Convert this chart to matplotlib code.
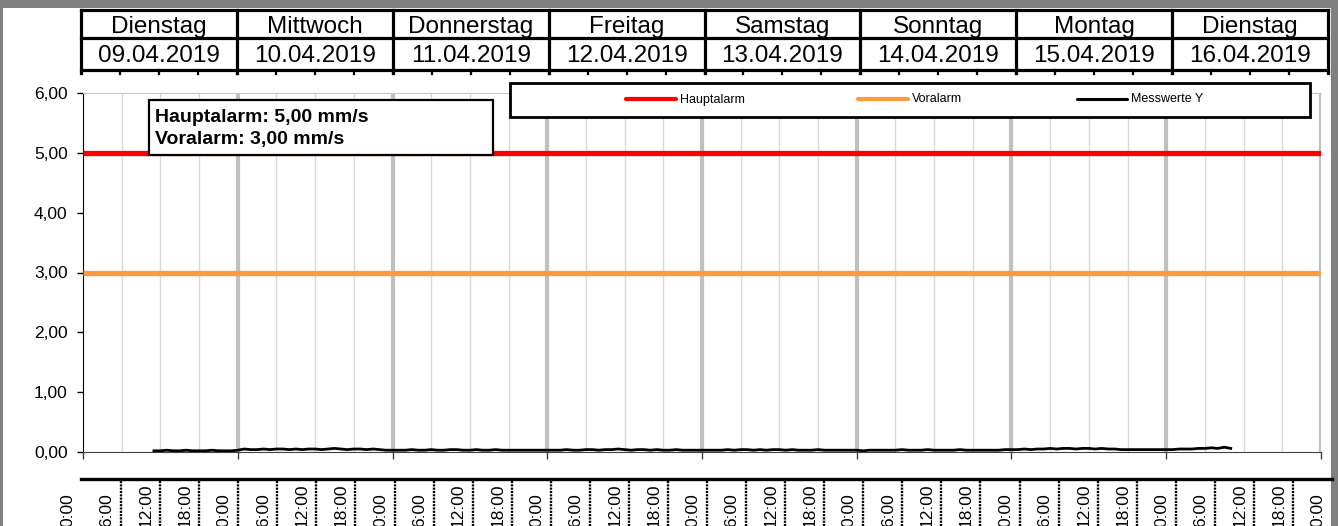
import matplotlib
matplotlib.use("Agg")
import matplotlib.pyplot as plt
from matplotlib.patches import Rectangle

# ---------------- data ----------------
day_names = ["Dienstag", "Mittwoch", "Donnerstag", "Freitag", "Samstag", "Sonntag", "Montag", "Dienstag"]
day_dates = ["09.04.2019", "10.04.2019", "11.04.2019", "12.04.2019", "13.04.2019", "14.04.2019", "15.04.2019", "16.04.2019"]
time_labels = ["0:00", "6:00", "12:00", "18:00"] * 8 + ["0:00"]
y_ticks = [0, 1, 2, 3, 4, 5, 6]
hauptalarm = 5.0
voralarm = 3.0
legend_labels = ["Hauptalarm", "Voralarm", "Messwerte Y"]

# Messwerte Y: hourly readings (hours since 09.04.2019 00:00), starting at 11:00
mess_start_hour = 11
mess_values = [
    # 09.04 11-23h
    0.02, 0.02, 0.03, 0.02, 0.02, 0.03, 0.02, 0.02, 0.02, 0.03, 0.02, 0.02, 0.02,
    # 10.04
    0.03, 0.05, 0.04, 0.04, 0.05, 0.04, 0.05, 0.05, 0.04, 0.05, 0.04, 0.05,
    0.05, 0.04, 0.05, 0.06, 0.05, 0.04, 0.05, 0.05, 0.04, 0.05, 0.04, 0.03,
    # 11.04
    0.03, 0.03, 0.03, 0.04, 0.03, 0.03, 0.04, 0.03, 0.03, 0.04, 0.04, 0.03,
    0.03, 0.04, 0.03, 0.03, 0.04, 0.03, 0.03, 0.03, 0.03, 0.03, 0.03, 0.03,
    # 12.04
    0.03, 0.03, 0.03, 0.04, 0.03, 0.03, 0.04, 0.04, 0.03, 0.04, 0.04, 0.05,
    0.04, 0.03, 0.04, 0.04, 0.03, 0.04, 0.03, 0.03, 0.04, 0.03, 0.03, 0.03,
    # 13.04
    0.03, 0.03, 0.03, 0.03, 0.04, 0.03, 0.04, 0.04, 0.03, 0.04, 0.03, 0.04,
    0.04, 0.03, 0.04, 0.03, 0.03, 0.03, 0.04, 0.03, 0.03, 0.03, 0.03, 0.03,
    # 14.04
    0.03, 0.02, 0.03, 0.03, 0.03, 0.03, 0.03, 0.04, 0.03, 0.03, 0.03, 0.04,
    0.03, 0.03, 0.03, 0.03, 0.04, 0.03, 0.03, 0.03, 0.03, 0.03, 0.03, 0.04,
    # 15.04
    0.04, 0.04, 0.05, 0.04, 0.05, 0.05, 0.06, 0.05, 0.06, 0.06, 0.05, 0.06,
    0.06, 0.05, 0.06, 0.05, 0.05, 0.04, 0.04, 0.04, 0.04, 0.04, 0.04, 0.04,
    # 16.04 0-10h
    0.04, 0.04, 0.05, 0.05, 0.05, 0.06, 0.06, 0.07, 0.06, 0.08, 0.06,
]
mess_hours = [mess_start_hour + i for i in range(len(mess_values))]

# ---------------- figure ----------------
W, H = 1338, 526
fig = plt.figure(figsize=(W / 100, H / 100), dpi=100)
plt.rcParams["font.family"] = ["Liberation Sans", "DejaVu Sans"]


def ax_px(x0, y0, x1, y1, **kw):
    return fig.add_axes([x0 / W, 1 - y1 / H, (x1 - x0) / W, (y1 - y0) / H], **kw)


n_days = len(day_names)
total_h = 24 * n_days

# main plot
ax = ax_px(83, 93, 1321, 452)
ax.set_xlim(0, total_h)
ax.set_ylim(0, 6)
for h in range(6, total_h + 1, 6):
    if h % 24 == 0:
        ax.axvline(h, color="#c0c0c0", lw=3.0, zorder=0)
    else:
        ax.axvline(h, color="#d9d9d9", lw=1.0, zorder=0)

ax.plot([0, total_h], [hauptalarm, hauptalarm], color="#ff0000", lw=3.8,
        solid_capstyle="butt", zorder=3)
ax.plot([0, total_h], [voralarm, voralarm], color="#ff9a3c", lw=3.8,
        solid_capstyle="butt", zorder=3)
ax.plot(mess_hours, mess_values, color="black", lw=2.0, zorder=4)

ax.set_xticks(range(0, total_h + 1, 24))
ax.tick_params(axis="x", direction="out", length=5, width=1, color="#404040",
               labelbottom=False)
ax.set_yticks(y_ticks)
ax.set_yticklabels([f"{v:.2f}".replace(".", ",") for v in y_ticks])
ax.tick_params(axis="y", direction="out", length=4, width=1, pad=7, labelsize=12.5)
ax.spines["right"].set_visible(False)
ax.spines["top"].set_color("#c8c8c8")
ax.spines["left"].set_color("black")
ax.spines["bottom"].set_color("#404040")

# overlay for frame, header, legend, text box, time labels
ov = fig.add_axes([0, 0, 1, 1], zorder=10)
ov.set_xlim(0, W)
ov.set_ylim(H, 0)
ov.axis("off")

grey = "#808080"
ov.add_patch(Rectangle((0, 0), W, 8, color=grey, lw=0))
ov.add_patch(Rectangle((0, 0), 3, H, color=grey, lw=0))
ov.add_patch(Rectangle((1331, 0), W - 1331, H, color=grey, lw=0))

# header table
hx0, hx1 = 81, 1328
cw = (hx1 - hx0) / n_days
lwh = 2.3
ov.plot([hx0, hx1], [9.8, 9.8], color="black", lw=lwh, solid_capstyle="projecting")
ov.plot([hx0, hx1], [38, 38], color="black", lw=lwh)
ov.plot([hx0, hx1], [70, 70], color="black", lw=lwh, solid_capstyle="projecting")
for i in range(n_days + 1):
    x = hx0 + i * cw
    ov.plot([x, x], [9.8, 73], color="black", lw=lwh)
for k in range(1, 4 * n_days):
    x = hx0 + k * cw / 4
    ov.plot([x, x], [70, 74], color="black", lw=1.6)
for i in range(n_days):
    xc = hx0 + (i + 0.5) * cw
    ov.text(xc, 33, day_names[i], ha="center", va="baseline", fontsize=17.5)
    ov.text(xc, 62, day_dates[i], ha="center", va="baseline", fontsize=17.5)

# bottom time table
bx0, bx1 = 82, 1332
n_int = len(time_labels) - 1
sw = (bx1 - bx0) / n_int
ov.plot([81, 1332], [479, 479], color="black", lw=2.4)
for k in range(1, n_int):
    x = bx0 + k * sw
    ov.plot([x, x], [481, 530], color="black", lw=1.7, ls=(0, (0.9, 0.5)))
for k, lab in enumerate(time_labels):
    x = bx0 + k * sw - 14
    ov.text(x, 527, lab, rotation=90, ha="center", va="bottom", fontsize=12.5)

# legend box
ov.add_patch(Rectangle((510, 83), 800, 34, fc="white", ec="black", lw=2.0))
leg_colors = ["#ff0000", "#ff9a3c", "black"]
leg_lw = [3.0, 3.0, 2.2]
leg_x = [626, 858, 1077]
for lab, c, lw_, x in zip(legend_labels, leg_colors, leg_lw, leg_x):
    ov.plot([x, x + 50], [99, 99], color=c, lw=lw_, solid_capstyle="round")
    ov.text(x + 54, 99.5, lab, ha="left", va="center", fontsize=9)

# alarm text box
ov.add_patch(Rectangle((149, 100), 344, 55, fc="white", ec="black", lw=1.6))
ov.text(155, 122, f"Hauptalarm: {hauptalarm:.2f} mm/s".replace(".", ","),
        ha="left", va="baseline", fontsize=14, fontweight="bold")
ov.text(155, 144, f"Voralarm: {voralarm:.2f} mm/s".replace(".", ","),
        ha="left", va="baseline", fontsize=14, fontweight="bold")

fig.savefig("out.png", dpi=100)
